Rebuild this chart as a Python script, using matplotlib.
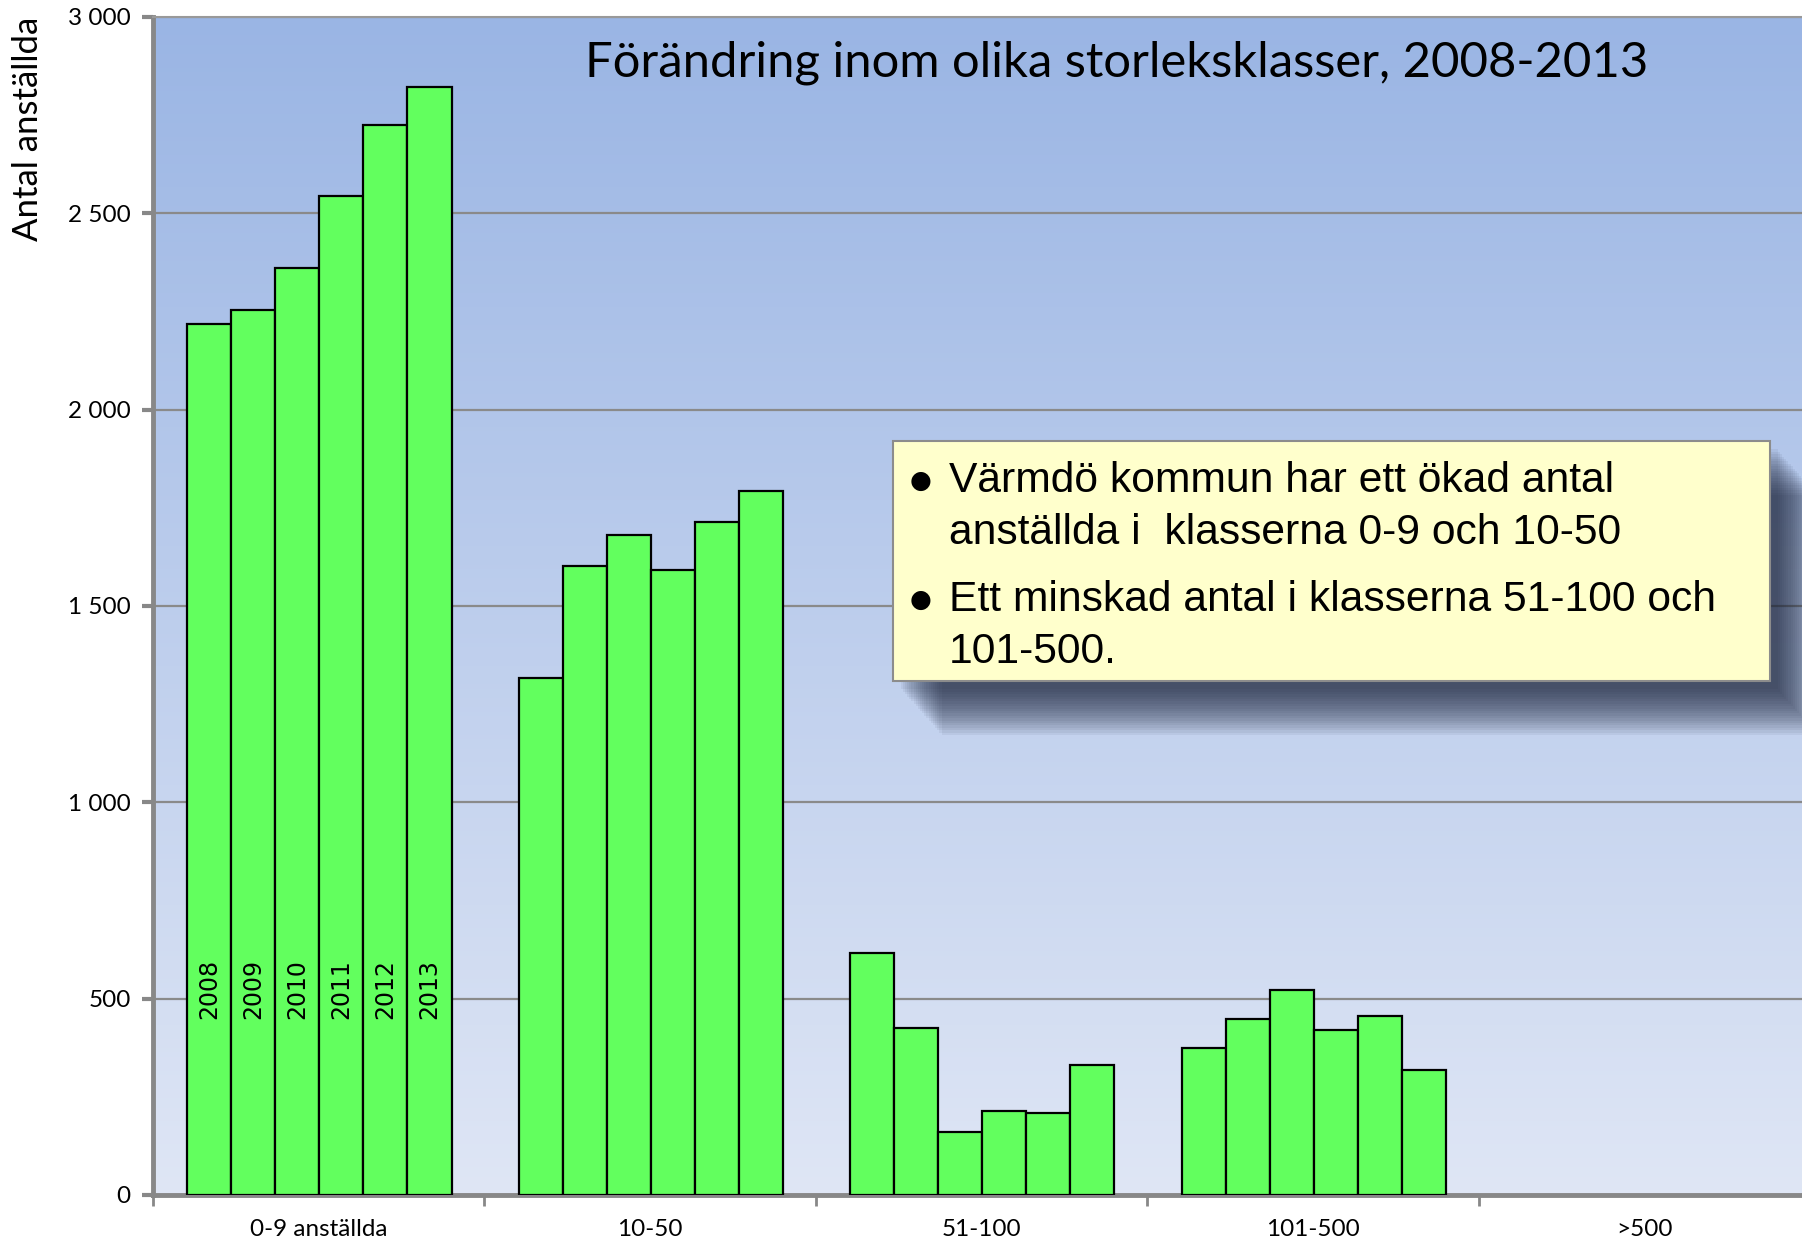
import numpy as np
import matplotlib.pyplot as plt
from matplotlib.patches import Rectangle
from matplotlib.ticker import FuncFormatter

# %% data
klasser = ['0-9 anställda', '10-50', '51-100', '101-500', '>500']
years = ['2008', '2009', '2010', '2011', '2012', '2013']
v2008 = [2218, 1317, 617, 375, np.nan]
v2009 = [2253, 1601, 424, 448, np.nan]
v2010 = [2362, 1680, 161, 521, np.nan]
v2011 = [2543, 1592, 214, 419, np.nan]
v2012 = [2725, 1715, 208, 457, np.nan]
v2013 = [2821, 1794, 331, 319, np.nan]
series = [v2008, v2009, v2010, v2011, v2012, v2013]

title = 'Förändring inom olika storleksklasser, 2008-2013'
note_lines = [['Värmdö kommun har ett ökad antal', 'anställda i  klasserna 0-9 och 10-50'],
              ['Ett minskad antal i klasserna 51-100 och', '101-500.']]

# %% figure
fig = plt.figure(figsize=(18.02, 12.40), dpi=100)
ax = fig.add_axes([0.0849, 0.0363, 0.9195, 0.95])

# background gradient, darker blue at the top
grad = np.linspace(0, 1, 256)[:, None]
top = np.array([154, 181, 228]) / 255
bot = np.array([223, 230, 245]) / 255
img = top[None, None, :] * (1 - grad[..., None]) + bot[None, None, :] * grad[..., None]
ax.imshow(img, extent=[0, 5, 0, 3000], origin='upper', aspect='auto', zorder=0)

bw = 0.1328
start = 0.104
x0 = np.arange(len(klasser))
for j, vals in enumerate(series):
    xs = x0 + start + (j + 0.5) * bw
    ax.bar(xs, vals, width=bw, color='#62ff5e', edgecolor='black', linewidth=1.6, zorder=3)
    # year labels inside first group
    ax.text(xs[0], 448, years[j], rotation=90, ha='center', va='bottom',
            fontsize=17, family='DejaVu Sans', zorder=4)

ax.set_xlim(0, 5)
ax.set_ylim(0, 3000)
ax.set_yticks(np.arange(0, 3001, 500))
ax.yaxis.set_major_formatter(FuncFormatter(lambda v, p: f'{int(v):,}'.replace(',', ' ')))
ax.yaxis.grid(True, color='#8a8a8a', linewidth=1.6, zorder=1)
ax.set_axisbelow(True)

ax.set_xticks(np.arange(0, 6))
ax.set_xticklabels([])
ax.set_xticks(x0 + 0.5, minor=True)
ax.set_xticklabels(klasser, minor=True, fontsize=17.5, family='Lato')
ax.tick_params(axis='x', which='minor', length=0, pad=17)
ax.tick_params(axis='x', which='major', length=8, width=2, color='#888888', direction='out')
ax.tick_params(axis='y', length=8, width=3, color='#888888', direction='out',
               labelsize=17.5, pad=8)
for lab in ax.get_yticklabels():
    lab.set_family('Lato')

for s in ['left', 'bottom']:
    ax.spines[s].set_color('#888888')
    ax.spines[s].set_linewidth(3.5)
for s in ['top', 'right']:
    ax.spines[s].set_color('#999999')
    ax.spines[s].set_linewidth(1.5)

ax.set_ylabel('Antal anställda', fontsize=25, family='Lato')
ax.yaxis.set_label_coords(-0.066, 0.905)

fig.text(1117 / 1802, 1 - 63 / 1240, title, ha='center', va='center',
         fontsize=35.3, family='Lato')

# %% note box with soft shadow (figure pixel coordinates)
W, H = 1802, 1240
bx, by, bwid, bht = 893, 441, 877, 240
for k in range(20, 0, -1):
    off = 6 + k * 2.4
    fig.patches.append(Rectangle(((bx + off * 0.9) / W, 1 - (by + bht + off) / H),
                                 bwid / W, bht / H, transform=fig.transFigure,
                                 facecolor='#1a2238', edgecolor='none', alpha=0.06, zorder=5))
fig.patches.append(Rectangle((bx / W, 1 - (by + bht) / H), bwid / W, bht / H,
                             transform=fig.transFigure, facecolor='#ffffcc',
                             edgecolor='#8c8c8c', linewidth=1.5, zorder=6))

ys = [[481, 533], [600, 652]]
for lines, yy in zip(note_lines, ys):
    fig.text(921 / W, 1 - yy[0] / H, '●', ha='center', va='center', fontsize=18,
             family='DejaVu Sans', zorder=7)
    for ln, y in zip(lines, yy):
        fig.text(949 / W, 1 - y / H, ln, ha='left', va='center', fontsize=30.7,
                 family='Liberation Sans', zorder=7)

fig.savefig('out.png', dpi=100)
